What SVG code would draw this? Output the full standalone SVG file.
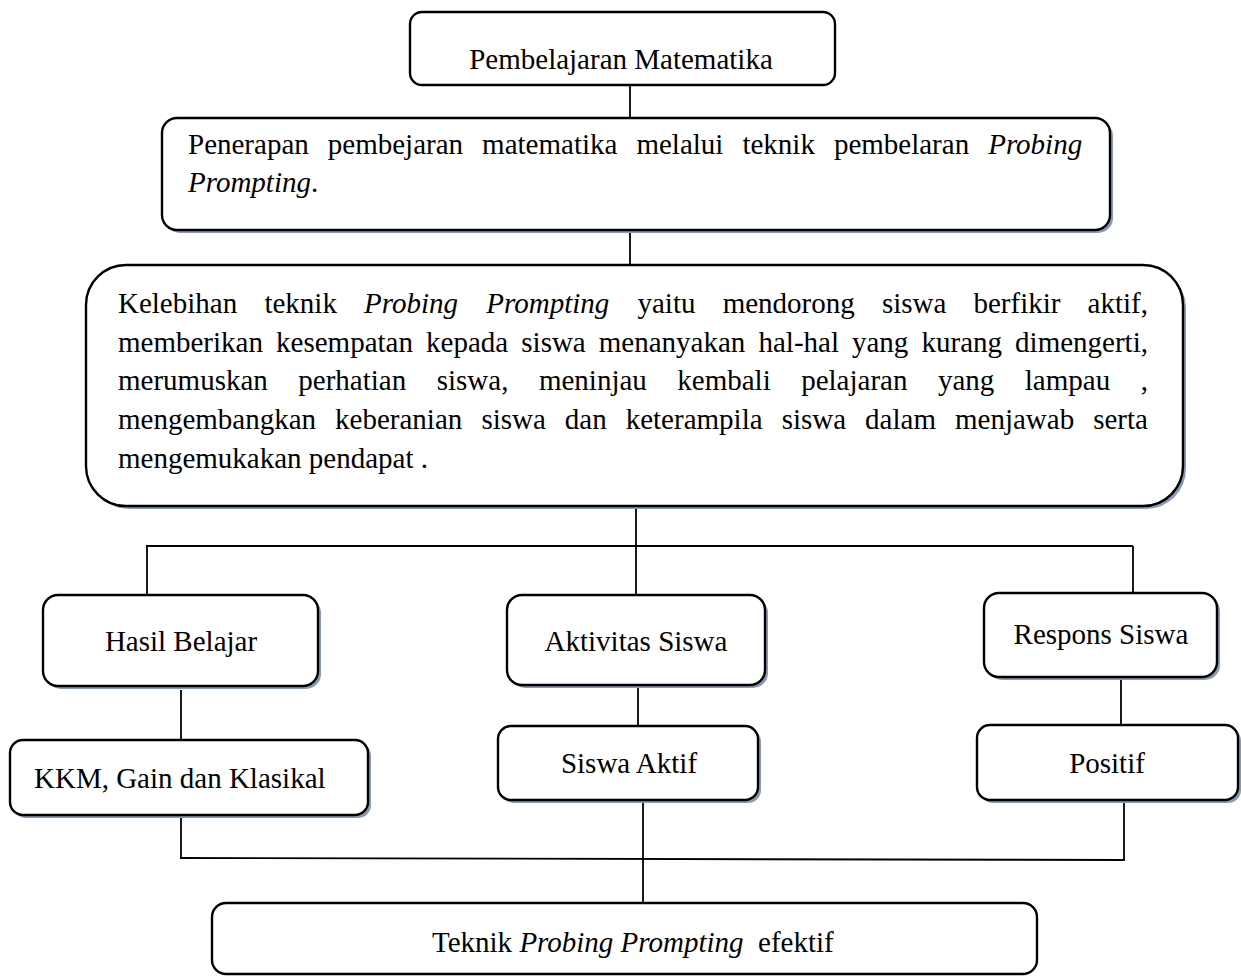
<svg xmlns="http://www.w3.org/2000/svg" width="1241" height="977" viewBox="0 0 1241 977">
<style>
text { font-family: "Liberation Serif", "Times New Roman", serif; font-size: 29px; fill: #000; white-space: pre; }
.i { font-style: italic; }
.box { fill: #fff; stroke: #000; stroke-width: 2.4; }
.sh { fill: #8a9ab3; }
.ln { stroke: #000; stroke-width: 1.8; fill: none; }
</style>
<rect width="1241" height="977" fill="#fff"/>
<g id="connectors">
<line class="ln" x1="630" y1="85" x2="630" y2="118"/>
<line class="ln" x1="630" y1="230" x2="630" y2="265"/>
<line class="ln" x1="636" y1="505" x2="636" y2="596"/>
<line class="ln" x1="146" y1="546" x2="1133" y2="546"/>
<line class="ln" x1="147" y1="546" x2="147" y2="596"/>
<line class="ln" x1="1133" y1="546" x2="1133" y2="593"/>
<line class="ln" x1="181" y1="690" x2="181" y2="740"/>
<line class="ln" x1="638" y1="686" x2="638" y2="726"/>
<line class="ln" x1="1121" y1="678" x2="1121" y2="725"/>
<line class="ln" x1="181" y1="815" x2="181" y2="858"/>
<line class="ln" x1="643" y1="800" x2="643" y2="903"/>
<line class="ln" x1="1124" y1="800" x2="1124" y2="861"/>
<line class="ln" x1="180" y1="858" x2="1125" y2="860"/>
</g>
<g id="node-pembelajaran">
<rect class="box" x="410" y="12" width="425" height="73" rx="12"/>
<text x="621" y="69" text-anchor="middle">Pembelajaran Matematika</text>
</g>
<g id="node-penerapan">
<rect class="sh" x="165" y="121" width="948" height="112" rx="15"/>
<rect class="box" x="162" y="118" width="948" height="112" rx="15"/>
<text y="154"><tspan x="188">Penerapan</tspan><tspan x="327.8">pembejaran</tspan><tspan x="482.1">matematika</tspan><tspan x="636.4">melalui</tspan><tspan x="742.4">teknik</tspan><tspan x="833.9">pembelaran</tspan><tspan x="988.2" class="i">Probing</tspan></text>
<text y="192" x="188"><tspan class="i">Prompting</tspan>.</text>
</g>
<g id="node-kelebihan">
<rect class="sh" x="89" y="268" width="1097" height="241" rx="40"/>
<rect class="box" x="86" y="265" width="1097" height="241" rx="40"/>
<text y="313"><tspan x="118">Kelebihan</tspan><tspan x="264.4">teknik</tspan><tspan x="364" class="i">Probing</tspan><tspan x="486.3" class="i">Prompting</tspan><tspan x="637.5">yaitu</tspan><tspan x="722.7">mendorong</tspan><tspan x="881.9">siswa</tspan><tspan x="973.5">berfikir</tspan><tspan x="1087.6">aktif,</tspan></text>
<text y="352"><tspan x="118">memberikan</tspan><tspan x="276.1">kesempatan</tspan><tspan x="426.1">kepada</tspan><tspan x="521.3">siswa</tspan><tspan x="598.8">menanyakan</tspan><tspan x="758.5">hal-hal</tspan><tspan x="852">yang</tspan><tspan x="921.5">kurang</tspan><tspan x="1015.1">dimengerti,</tspan></text>
<text y="390"><tspan x="118">merumuskan</tspan><tspan x="298.3">perhatian</tspan><tspan x="436.7">siswa,</tspan><tspan x="538.9">meninjau</tspan><tspan x="677.3">kembali</tspan><tspan x="801.2">pelajaran</tspan><tspan x="937.9">yang</tspan><tspan x="1024.8">lampau</tspan><tspan x="1140.7">,</tspan></text>
<text y="429"><tspan x="118">mengembangkan</tspan><tspan x="335.1">keberanian</tspan><tspan x="481.4">siswa</tspan><tspan x="564.8">dan</tspan><tspan x="625.7">keterampila</tspan><tspan x="781.7">siswa</tspan><tspan x="865.1">dalam</tspan><tspan x="955">menjawab</tspan><tspan x="1093.2">serta</tspan></text>
<text y="468" x="118">mengemukakan pendapat .</text>
</g>
<g id="node-hasil">
<rect class="sh" x="46" y="598" width="275" height="91" rx="15"/>
<rect class="box" x="43" y="595" width="275" height="91" rx="15"/>
<text x="181" y="651" text-anchor="middle">Hasil Belajar</text>
</g>
<g id="node-aktivitas">
<rect class="sh" x="510" y="598" width="258" height="90" rx="15"/>
<rect class="box" x="507" y="595" width="258" height="90" rx="15"/>
<text x="636" y="651" text-anchor="middle">Aktivitas Siswa</text>
</g>
<g id="node-respons">
<rect class="sh" x="987" y="596" width="233" height="84" rx="15"/>
<rect class="box" x="984" y="593" width="233" height="84" rx="15"/>
<text x="1101" y="644" text-anchor="middle">Respons Siswa</text>
</g>
<g id="node-kkm">
<rect class="sh" x="13" y="743" width="358" height="75" rx="13"/>
<rect class="box" x="10" y="740" width="358" height="75" rx="13"/>
<text x="34" y="788">KKM, Gain dan Klasikal</text>
</g>
<g id="node-siswa-aktif">
<rect class="sh" x="501" y="729" width="260" height="74" rx="13"/>
<rect class="box" x="498" y="726" width="260" height="74" rx="13"/>
<text x="629" y="773" text-anchor="middle">Siswa Aktif</text>
</g>
<g id="node-positif">
<rect class="sh" x="980" y="728" width="261" height="75" rx="13"/>
<rect class="box" x="977" y="725" width="261" height="75" rx="13"/>
<text x="1107" y="773" text-anchor="middle">Positif</text>
</g>
<g id="node-efektif">
<rect class="box" x="212" y="903" width="825" height="71" rx="14"/>
<text x="432" y="952">Teknik <tspan class="i">Probing Prompting</tspan>  efektif</text>
</g>
</svg>
